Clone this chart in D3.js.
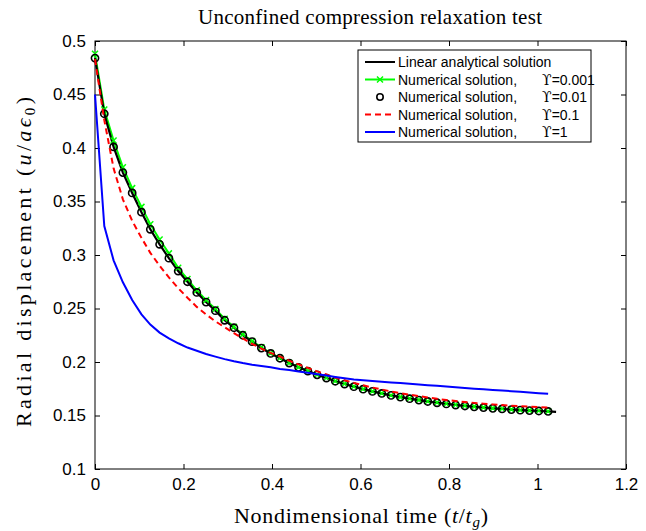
<!DOCTYPE html>
<html>
<head>
<meta charset="utf-8">
<script src="https://cdn.jsdelivr.net/npm/d3@7"></script>
<style>
body{margin:0;background:#fff;}
svg{display:block;}
</style>
</head>
<body>
<div id="chart"></div>
<script>
// time samples of the numerical runs (t/tg)
const tNum=[0,0.021,0.042,0.063,0.084,0.105,0.125,0.146,0.167,0.188,
  0.209,0.23,0.251,0.272,0.293,0.314,0.334,0.355,0.376,0.397,
  0.418,0.439,0.46,0.481,0.502,0.523,0.543,0.564,0.585,0.606,
  0.627,0.648,0.669,0.69,0.711,0.732,0.752,0.773,0.794,0.815,
  0.836,0.857,0.878,0.899,0.92,0.941,0.961,0.982,1.003,1.024];
const tAnalytic=tNum.concat([1.042]);

// linear analytical solution
const uAnalytic=[0.484,0.432,0.401,0.377,0.358,0.340,0.324,0.310,0.297,0.285,
  0.275,0.265,0.256,0.248,0.239,0.232,0.225,0.219,0.213,0.208,
  0.2035,0.199,0.195,0.1915,0.188,0.185,0.182,0.1794,0.1769,0.1746,
  0.1725,0.1706,0.1688,0.1672,0.1657,0.1644,0.1631,0.1619,0.1608,0.1598,
  0.1589,0.1581,0.1574,0.1567,0.1561,0.1555,0.155,0.1546,0.1542,0.1538,0.1534];
// numerical, upsilon = 0.001
const uUps0001=[0.488,0.436,0.407,0.382,0.3625,0.345,0.3288,0.3145,0.3015,0.288,
  0.2775,0.267,0.2578,0.2495,0.2405,0.2328,0.2258,0.2195,0.2137,0.2083,
  0.2037,0.1992,0.1952,0.1917,0.1882,0.1852,0.1822,0.1796,0.1771,0.1748,
  0.1727,0.1708,0.169,0.1674,0.1659,0.1646,0.1633,0.1621,0.161,0.16,
  0.1591,0.1583,0.1576,0.1569,0.1563,0.1557,0.1552,0.1548,0.1544,0.154];
// numerical, upsilon = 0.01
const uUps001=[0.484,0.432,0.401,0.377,0.358,0.340,0.324,0.310,0.297,0.285,
  0.275,0.265,0.256,0.248,0.239,0.232,0.225,0.219,0.213,0.208,
  0.2035,0.199,0.195,0.1915,0.188,0.185,0.182,0.1794,0.1769,0.1746,
  0.1725,0.1706,0.1688,0.1672,0.1657,0.1644,0.1631,0.1619,0.1608,0.1598,
  0.1589,0.1581,0.1574,0.1567,0.1561,0.1555,0.155,0.1546,0.1542,0.1538];
// numerical, upsilon = 0.1
const uUps01=[0.483,0.426,0.381,0.352,0.332,0.316,0.302,0.290,0.279,0.269,
  0.260,0.2515,0.2445,0.238,0.2325,0.227,0.222,0.217,0.2125,0.2085,
  0.205,0.2012,0.1978,0.1945,0.1912,0.1883,0.1855,0.1829,0.1805,0.1782,
  0.1761,0.1743,0.1725,0.1709,0.1694,0.1681,0.1668,0.1656,0.1645,0.1635,
  0.1626,0.1618,0.1611,0.1604,0.1598,0.1592,0.1587,0.1582,0.1578,0.1575];
// numerical, upsilon = 1
const uUps1=[0.450,0.327,0.295,0.2745,0.258,0.2445,0.235,0.2275,0.222,0.2175,
  0.2135,0.2105,0.2075,0.205,0.2027,0.2007,0.199,0.1975,0.1962,0.195,
  0.1935,0.1925,0.1912,0.1899,0.1886,0.1873,0.186,0.1848,0.1837,0.183,
  0.1823,0.1816,0.1809,0.1803,0.1796,0.179,0.1783,0.1777,0.177,0.1764,
  0.1758,0.1751,0.1745,0.1739,0.1733,0.1727,0.1721,0.1715,0.1709,0.1703];

const xTicks=[0,0.2,0.4,0.6,0.8,1,1.2];
const yTicks=[0.1,0.15,0.2,0.25,0.3,0.35,0.4,0.45,0.5];
const legendLabels=["Linear analytical solution","Numerical solution,","Numerical solution,","Numerical solution,","Numerical solution,"];
const legendUps=["","=0.001","=0.01","=0.1","=1"];

const width=646, height=531;
const plotLeft=95, plotRight=626, plotTop=41, plotBottom=469;

const svg=d3.select("#chart").append("svg")
  .attr("width",width).attr("height",height);

const x_scale=d3.scaleLinear().domain([0,1.2]).range([plotLeft,plotRight]);
const y_scale=d3.scaleLinear().domain([0.1,0.5]).range([plotBottom,plotTop]);

// axes, ticks pointing inward like matlab
const tickFont="Liberation Sans, Arial, sans-serif";
const fmt=d3.format("~g");

let gx=svg.append("g").attr("transform","translate(0,"+plotBottom+")")
  .call(d3.axisBottom(x_scale).tickValues(xTicks).tickSize(-5).tickSizeOuter(0).tickPadding(9).tickFormat(fmt));
let gy=svg.append("g").attr("transform","translate("+plotLeft+",0)")
  .call(d3.axisLeft(y_scale).tickValues(yTicks).tickSize(-5).tickSizeOuter(0).tickPadding(9).tickFormat(fmt));
let gt=svg.append("g").attr("transform","translate(0,"+plotTop+")")
  .call(d3.axisTop(x_scale).tickValues(xTicks).tickSize(-5).tickSizeOuter(0).tickFormat(""));
let gr=svg.append("g").attr("transform","translate("+plotRight+",0)")
  .call(d3.axisRight(y_scale).tickValues(yTicks).tickSize(-5).tickSizeOuter(0).tickFormat(""));

[gx,gy,gt,gr].forEach(g=>{
  g.select(".domain").remove();
  g.selectAll("line").attr("stroke","#000");
  g.selectAll("text").style("font-family",tickFont).style("font-size","17px").attr("fill","#000");
});

svg.append("rect")
  .attr("x",plotLeft).attr("y",plotTop)
  .attr("width",plotRight-plotLeft).attr("height",plotBottom-plotTop)
  .attr("fill","none").attr("stroke","#000").attr("stroke-width",1);

// series
const line=d3.line().x(d=>x_scale(d[0])).y(d=>y_scale(d[1]));
const zip=(a,b)=>a.map((v,i)=>[v,b[i]]);

const greenPts=zip(tNum,uUps0001);
svg.append("path").datum(greenPts)
  .attr("d",line).attr("fill","none").attr("stroke","#00ff00").attr("stroke-width",2);

svg.append("path").datum(zip(tAnalytic,uAnalytic))
  .attr("d",line).attr("fill","none").attr("stroke","#000").attr("stroke-width",2.2);

// green x markers
const xm=3;
svg.append("g").selectAll("path").data(greenPts).enter().append("path")
  .attr("d",d=>{
    let cx=x_scale(d[0]), cy=y_scale(d[1]);
    return "M"+(cx-xm)+","+(cy-xm)+"L"+(cx+xm)+","+(cy+xm)+"M"+(cx-xm)+","+(cy+xm)+"L"+(cx+xm)+","+(cy-xm);
  })
  .attr("stroke","#00ff00").attr("stroke-width",1.5);

svg.append("g").selectAll("circle").data(zip(tNum,uUps001)).enter().append("circle")
  .attr("cx",d=>x_scale(d[0])).attr("cy",d=>y_scale(d[1])).attr("r",3.6)
  .attr("fill","none").attr("stroke","#000").attr("stroke-width",1.6);

svg.append("path").datum(zip(tNum,uUps01))
  .attr("d",line).attr("fill","none").attr("stroke","#ff0000").attr("stroke-width",2)
  .attr("stroke-dasharray","6,4");

svg.append("path").datum(zip(tNum,uUps1))
  .attr("d",line).attr("fill","none").attr("stroke","#0000ff").attr("stroke-width",2);

// legend
const lg=svg.append("g");
lg.append("rect").attr("x",358).attr("y",50).attr("width",233).attr("height",92)
  .attr("fill","#fff").attr("stroke","#000").attr("stroke-width",1);
const rowY=[62,79.5,97,114.5,132];
legendLabels.forEach((lab,i)=>{
  let yy=rowY[i];
  if(i==0){
    lg.append("line").attr("x1",365).attr("x2",395).attr("y1",yy).attr("y2",yy).attr("stroke","#000").attr("stroke-width",2);
  } else if(i==1){
    lg.append("line").attr("x1",365).attr("x2",395).attr("y1",yy).attr("y2",yy).attr("stroke","#00ff00").attr("stroke-width",2);
    lg.append("path").attr("d","M"+(380-xm)+","+(yy-xm)+"L"+(380+xm)+","+(yy+xm)+"M"+(380-xm)+","+(yy+xm)+"L"+(380+xm)+","+(yy-xm))
      .attr("stroke","#00ff00").attr("stroke-width",1.5);
  } else if(i==2){
    lg.append("circle").attr("cx",380).attr("cy",yy).attr("r",3.2).attr("fill","none").attr("stroke","#000").attr("stroke-width",1.6);
  } else if(i==3){
    lg.append("line").attr("x1",365).attr("x2",395).attr("y1",yy).attr("y2",yy).attr("stroke","#ff0000").attr("stroke-width",2).attr("stroke-dasharray","6,4");
  } else {
    lg.append("line").attr("x1",365).attr("x2",395).attr("y1",yy).attr("y2",yy).attr("stroke","#0000ff").attr("stroke-width",2);
  }
  lg.append("text").attr("x",398).attr("y",yy+5)
    .style("font-family",tickFont).style("font-size","14px").text(lab);
  if(i>0){
    let t=lg.append("text").attr("x",542).attr("y",yy+5)
      .style("font-family",tickFont).style("font-size","14px");
    t.append("tspan").style("font-family","DejaVu Serif, serif").text("\u03D2");
    t.append("tspan").text(legendUps[i]);
  }
});

// title and axis labels (latex look: wide serif)
const serif="Liberation Serif, Times New Roman, serif";
svg.append("text").attr("x",370).attr("y",24)
  .attr("text-anchor","middle").style("font-family",serif).style("font-size","21px")
  .attr("textLength",344).attr("lengthAdjust","spacing")
  .text("Unconfined compression relaxation test");

let xl=svg.append("text").attr("x",361).attr("y",523)
  .attr("text-anchor","middle").style("font-family",serif).style("font-size","22px")
  .attr("textLength",254).attr("lengthAdjust","spacing");
xl.append("tspan").text("Nondimensional time (");
xl.append("tspan").style("font-style","italic").text("t");
xl.append("tspan").text("/");
xl.append("tspan").style("font-style","italic").text("t");
xl.append("tspan").style("font-style","italic").style("font-size","15px").attr("dy",4).text("g");
xl.append("tspan").attr("dy",-4).text(")");

let yl=svg.append("text").attr("transform","translate(31,262) rotate(-90)")
  .attr("text-anchor","middle").style("font-family",serif).style("font-size","22px")
  .attr("textLength",330).attr("lengthAdjust","spacing");
yl.append("tspan").text("Radial displacement (");
yl.append("tspan").style("font-style","italic").text("u");
yl.append("tspan").text("/");
yl.append("tspan").style("font-style","italic").text("a\u03F5");
yl.append("tspan").style("font-size","15px").attr("dy",4).text("0");
yl.append("tspan").attr("dy",-4).text(")");
</script>
</body>
</html>
